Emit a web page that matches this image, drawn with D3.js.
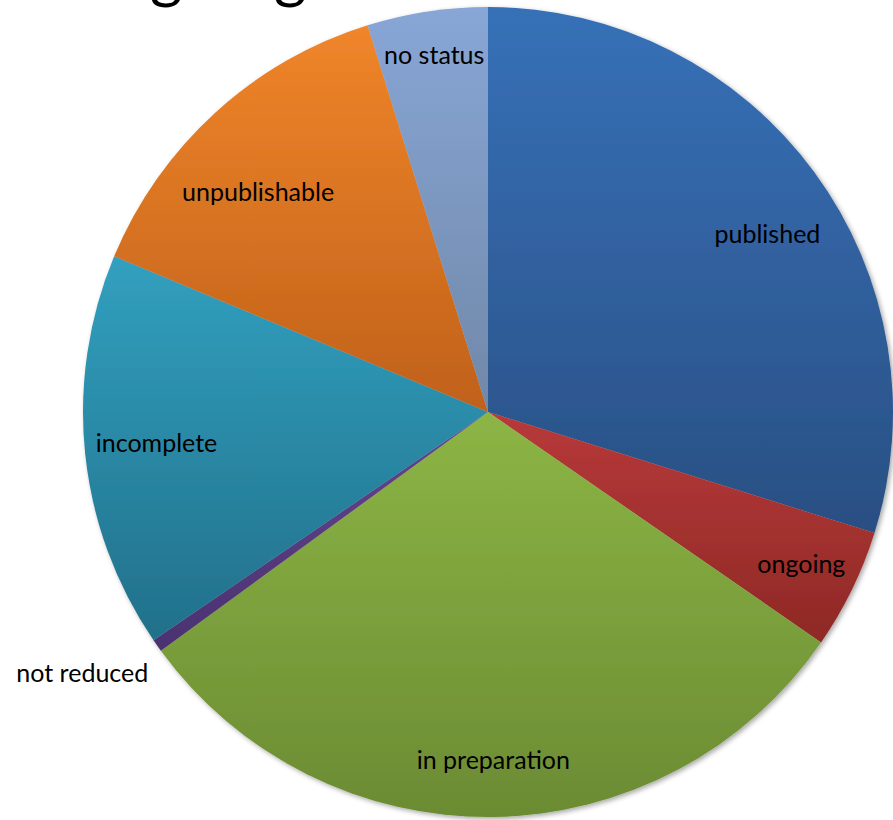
<!DOCTYPE html>
<html>
<head>
<meta charset="utf-8">
<script src="https://cdn.jsdelivr.net/npm/d3@7"></script>
<style>
  html, body { margin: 0; padding: 0; background: #ffffff; }
  svg { display: block; }
</style>
</head>
<body>
<svg id="chart" width="893" height="820"></svg>
<script>
// ---- data ----
const categories = ["published", "ongoing", "in preparation", "not reduced", "incomplete", "unpublishable", "no status"];
const values = [29.8, 4.8, 30.3, 0.5, 15.8, 13.9, 4.8];
const titleText = "Observing targets";

// ---- styles ----
const colorTop = ["#3671b8", "#b8393a", "#8cb545", "#65458f", "#31a0bf", "#f0852a", "#88a6d6"];
const colorBottom = ["#2a4f83", "#8e2925", "#6b8b33", "#4a3270", "#22708a", "#c0611a", "#7088a8"];
const labelOffset = { // fine placement tweaks (px)
  "published": [2, 25], "ongoing": [4, 0], "in preparation": [1, 3],
  "incomplete": [11, -5], "unpublishable": [2, 33], "no status": [-2, -18],
  "not reduced": [-12, -18]
};

const svg = d3.select("#chart");
const W = 893, H = 820;
const cx = 488, cy = 412, R = 405;

const defs = svg.append("defs");
const f = defs.append("filter").attr("id", "shadow").attr("x", "-10%").attr("y", "-10%").attr("width", "120%").attr("height", "120%");
f.append("feDropShadow").attr("dx", 2).attr("dy", 2).attr("stdDeviation", 2.5).attr("flood-color", "#000").attr("flood-opacity", 0.35);

categories.forEach((c, i) => {
  const g = defs.append("linearGradient").attr("id", "grad" + i)
    .attr("x1", 0).attr("y1", 0).attr("x2", 0).attr("y2", 1);
  g.append("stop").attr("offset", "0%").attr("stop-color", colorTop[i]);
  g.append("stop").attr("offset", "100%").attr("stop-color", colorBottom[i]);
});

// title (mostly cut off at top)
const title = svg.append("text")
  .attr("x", 0).attr("y", 0)
  .style("font-family", "Lato, 'Open Sans', sans-serif")
  .style("font-size", "60px")
  .attr("fill", "#000")
  .text(titleText);
(function fitTitle() {
  const node = title.node();
  const i1 = titleText.indexOf("g"), i2 = titleText.indexOf("g", i1 + 1);
  const d = node.getStartPositionOfChar(i2).x - node.getStartPositionOfChar(i1).x;
  const size = 60 * 124 / d;
  title.style("font-size", size + "px");
  const p1 = node.getStartPositionOfChar(i1).x;
  title.attr("x", 150 - p1).attr("y", -4);
})();

const pie = d3.pie().sort(null).value(d => d.v).startAngle(0).endAngle(2 * Math.PI);
const data = pie(categories.map((c, i) => ({ c, v: values[i], i })));
const arc = d3.arc().innerRadius(0).outerRadius(R);

const gPie = svg.append("g").attr("transform", `translate(${cx},${cy})`);
const shadowG = gPie.append("g").attr("filter", "url(#shadow)");
shadowG.selectAll("path").data(data).enter().append("path")
  .attr("d", arc)
  .attr("fill", d => `url(#grad${d.data.i})`)
  .attr("stroke", "none");

// labels
const labelArc = d3.arc().innerRadius(R * 0.85).outerRadius(R * 0.85);
const outerArc = d3.arc().innerRadius(R * 1.19).outerRadius(R * 1.19);
gPie.selectAll("text.lbl").data(data).enter().append("text")
  .attr("class", "lbl")
  .each(function (d) {
    const t = d3.select(this);
    const inside = (d.endAngle - d.startAngle) > 0.1;
    let [x, y] = inside ? labelArc.centroid(d) : outerArc.centroid(d);
    const off = labelOffset[d.data.c] || [0, 0];
    x += off[0]; y += off[1];
    t.attr("x", x).attr("y", y)
      .attr("text-anchor", "middle")
      .attr("dominant-baseline", "central");
  })
  .style("font-family", "Lato, 'Open Sans', sans-serif")
  .style("font-size", "25px")
  .attr("fill", "#000")
  .text(d => d.data.c);
</script>
</body>
</html>
